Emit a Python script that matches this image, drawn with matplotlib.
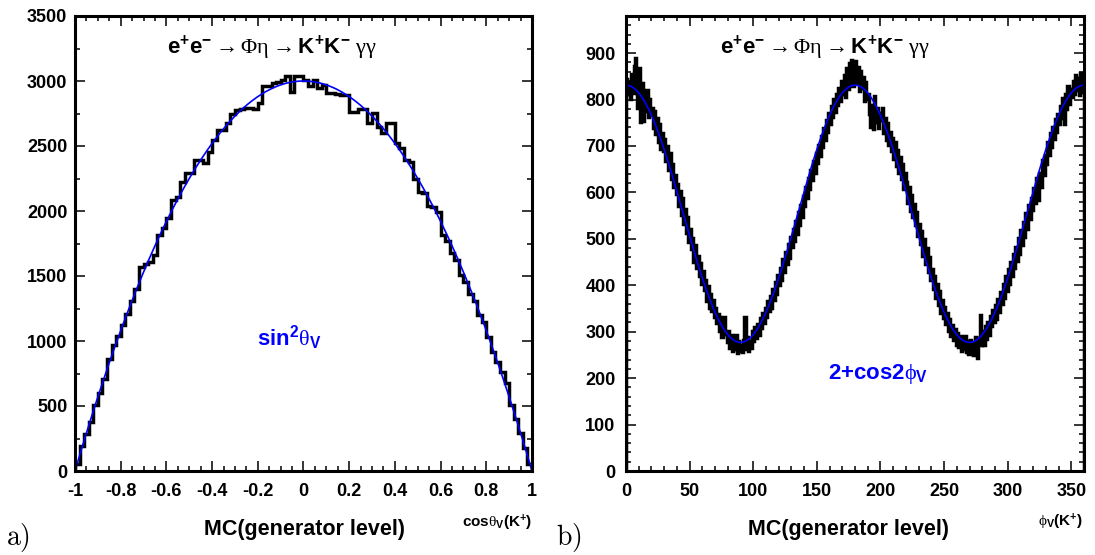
import numpy as np
import matplotlib
matplotlib.use("Agg")
import matplotlib.pyplot as plt

# ---- data ----
# a) cos(theta_V) of K+, 100 bins from -1 to 1
cos_edges = np.linspace(-1, 1, 101)
cos_counts = [
    55, 190, 285, 380, 505, 600, 710, 865, 970, 1035,
    1125, 1210, 1310, 1400, 1570, 1595, 1610, 1660, 1815, 1870,
    1945, 2085, 2110, 2225, 2290, 2295, 2390, 2395, 2370, 2455,
    2545, 2620, 2620, 2675, 2750, 2780, 2785, 2790, 2790, 2785,
    2830, 2965, 2965, 2985, 2990, 3010, 3035, 2915, 3035, 3035,
    3010, 2965, 3010, 2945, 2970, 2910, 2905, 2900, 2895, 2895,
    2765, 2765, 2785, 2785, 2680, 2755, 2650, 2600, 2680, 2675,
    2525, 2485, 2395, 2380, 2250, 2150, 2135, 2035, 2030, 1995,
    1815, 1770, 1675, 1620, 1505, 1455, 1365, 1310, 1200, 1145,
    1030, 915, 835, 760, 680, 505, 400, 295, 180, 52,
]
cos_fit_norm = 3000.0          # p0 * sin^2(theta_V)

# b) phi_V of K+, 360 bins from 0 to 360
phi_edges = np.linspace(0, 360, 361)
phi_counts = [
    845, 812, 838, 801, 856, 815, 872, 889, 842, 781,
    868, 752, 835, 753, 808, 776, 821, 762, 801, 773,
    781, 738, 776, 726, 761, 709, 747, 694, 728, 689,
    716, 667, 701, 648, 686, 629, 662, 611, 637, 596,
    618, 571, 603, 552, 589, 531, 564, 512, 548, 494,
    521, 478, 502, 451, 486, 438, 463, 419, 447, 402,
    431, 389, 412, 367, 398, 352, 381, 344, 369, 331,
    352, 318, 339, 301, 331, 289, 312, 331, 296, 278,
    302, 264, 293, 258, 286, 262, 294, 255, 281, 259,
    271, 256, 283, 331, 262, 289, 258, 281, 266, 302,
    279, 311, 286, 317, 294, 329, 308, 341, 318, 352,
    331, 367, 344, 378, 352, 391, 369, 408, 381, 422,
    401, 438, 412, 457, 429, 472, 446, 489, 458, 503,
    482, 521, 496, 538, 511, 557, 529, 574, 548, 592,
    571, 612, 589, 631, 607, 648, 626, 667, 642, 684,
    664, 703, 678, 722, 697, 738, 712, 756, 731, 771,
    748, 786, 763, 801, 774, 812, 789, 826, 798, 839,
    811, 852, 806, 867, 823, 879, 838, 886, 829, 861,
    884, 835, 871, 818, 862, 826, 849, 797, 838, 801,
    812, 768, 741, 789, 736, 807, 752, 781, 738, 772,
    756, 781, 728, 761, 712, 749, 703, 731, 689, 718,
    673, 709, 658, 692, 641, 677, 629, 662, 608, 641,
    622, 578, 611, 561, 594, 547, 576, 529, 558, 506,
    532, 488, 517, 463, 499, 446, 481, 428, 462, 411,
    436, 391, 419, 372, 403, 358, 387, 341, 369, 329,
    353, 317, 341, 302, 327, 291, 315, 283, 306, 271,
    298, 268, 291, 259, 284, 263, 291, 256, 279, 252,
    283, 258, 276, 249, 289, 261, 244, 287, 336, 271,
    302, 271, 313, 284, 321, 293, 334, 312, 347, 321,
    358, 327, 371, 343, 386, 359, 403, 372, 419, 388,
    436, 402, 451, 419, 468, 438, 483, 452, 501, 467,
    519, 486, 537, 503, 556, 521, 574, 543, 589, 562,
    609, 578, 631, 596, 583, 641, 612, 669, 638, 681,
    662, 708, 681, 727, 698, 742, 716, 758, 731, 769,
    748, 787, 761, 803, 748, 812, 779, 829, 791, 822,
    806, 841, 813, 852, 821, 846, 809, 858, 817, 842,
]
phi_fit_norm = 277.0           # p0 * (2 + cos 2phi_V)

cos_ticks = [-1, -0.8, -0.6, -0.4, -0.2, 0, 0.2, 0.4, 0.6, 0.8, 1]
cos_ticklabels = ["-1", "-0.8", "-0.6", "-0.4", "-0.2", "0",
                  "0.2", "0.4", "0.6", "0.8", "1"]
cos_yticks = [0, 500, 1000, 1500, 2000, 2500, 3000, 3500]
phi_ticks = [0, 50, 100, 150, 200, 250, 300, 350]
phi_yticks = [0, 100, 200, 300, 400, 500, 600, 700, 800, 900]

# ---- style ----
plt.rcParams['font.family'] = ['Liberation Sans', 'DejaVu Sans']
plt.rcParams['font.weight'] = 'bold'
plt.rcParams['mathtext.fontset'] = 'custom'
plt.rcParams['mathtext.rm'] = 'Liberation Serif:weight=normal'
plt.rcParams['mathtext.it'] = 'Liberation Serif:weight=normal'
plt.rcParams['mathtext.bf'] = 'Liberation Sans:weight=bold'
plt.rcParams['mathtext.sf'] = 'Liberation Sans:weight=normal'

W, H = 1095, 555
fig = plt.figure(figsize=(W / 100, H / 100), dpi=100)

def fx(x):
    return x / W

def fy(y):
    return 1 - y / H

ax1 = fig.add_axes([fx(75), fy(471), fx(457), 455 / H])
ax2 = fig.add_axes([fx(626), fy(471), fx(458), 455 / H])

def style(ax, ylpad):
    for s in ax.spines.values():
        s.set_linewidth(2.2)
    ax.tick_params(which='both', direction='in', top=True, right=True,
                   width=1.1, labelsize=13)
    ax.tick_params(which='major', length=7)
    ax.tick_params(which='minor', length=3.5)
    ax.tick_params(axis='x', pad=9)
    ax.tick_params(axis='y', pad=ylpad)

# a) cos theta
ax1.stairs(cos_counts, cos_edges, color='black', lw=2.5)
xc = np.linspace(-1, 1, 400)
ax1.plot(xc, cos_fit_norm * (1 - xc ** 2), color='#0000ff', lw=1.2)
ax1.set_xlim(-1, 1)
ax1.set_ylim(0, 3500)
ax1.set_xticks(cos_ticks)
ax1.set_xticklabels(cos_ticklabels)
ax1.set_xticks(np.arange(-1, 1.001, 0.05), minor=True)
ax1.set_yticks(cos_yticks)
ax1.set_yticklabels([str(v) for v in cos_yticks])
ax1.set_yticks(np.arange(0, 3501, 250), minor=True)
style(ax1, 5.5)

# b) phi
ax2.stairs(phi_counts, phi_edges, color='black', lw=2.5)
xp = np.linspace(0, 360, 720)
ax2.plot(xp, phi_fit_norm * (2 + np.cos(np.radians(2 * xp))), color='#0000ff', lw=1.2)
ax2.set_xlim(0, 360)
ax2.set_ylim(0, 980)
ax2.set_xticks(phi_ticks)
ax2.set_xticklabels([str(v) for v in phi_ticks])
ax2.set_xticks(np.arange(0, 361, 10), minor=True)
ax2.set_yticks(phi_yticks)
ax2.set_yticklabels([str(v) for v in phi_yticks])
ax2.set_yticks(np.arange(0, 981, 20), minor=True)
style(ax2, 7.5)

# ---- texts ----
title = (r"$\mathbf{e^{+}e^{-}}\rightarrow\Phi\eta\rightarrow"
         r"\mathbf{K^{+}K^{-}}\ \gamma\gamma$")
fig.text(fx(272), fy(48), title, ha='center', va='center', fontsize=16)
fig.text(fx(825), fy(48), title, ha='center', va='center', fontsize=16)

fig.text(fx(289), fy(338), r"$\mathbf{sin^{2}}\theta_{\mathbf{V}}$",
         ha='center', va='center', fontsize=16, color='#0000ff')
fig.text(fx(878), fy(374), r"$\mathbf{2{+}cos2}\phi_{\mathbf{V}}$",
         ha='center', va='center', fontsize=16, color='#0000ff')

fig.text(fx(304), fy(530), "MC(generator level)", ha='center', va='center',
         fontsize=15.5, fontweight='bold')
fig.text(fx(849), fy(530), "MC(generator level)", ha='center', va='center',
         fontsize=15.5, fontweight='bold')
fig.text(fx(532), fy(523), r"$\mathbf{cos}\theta_{\mathbf{V}}\mathbf{(K^{+})}$",
         ha='right', va='center', fontsize=11)
fig.text(fx(1083), fy(522), r"$\phi_{\mathbf{V}}\mathbf{(K^{+})}$",
         ha='right', va='center', fontsize=11)

fig.text(fx(6), fy(537), r"$\mathrm{a)}$", math_fontfamily='cm',
         ha='left', va='center', fontsize=20)
fig.text(fx(556), fy(537), r"$\mathrm{b)}$", math_fontfamily='cm',
         ha='left', va='center', fontsize=20)

fig.savefig("out.png", dpi=100)
